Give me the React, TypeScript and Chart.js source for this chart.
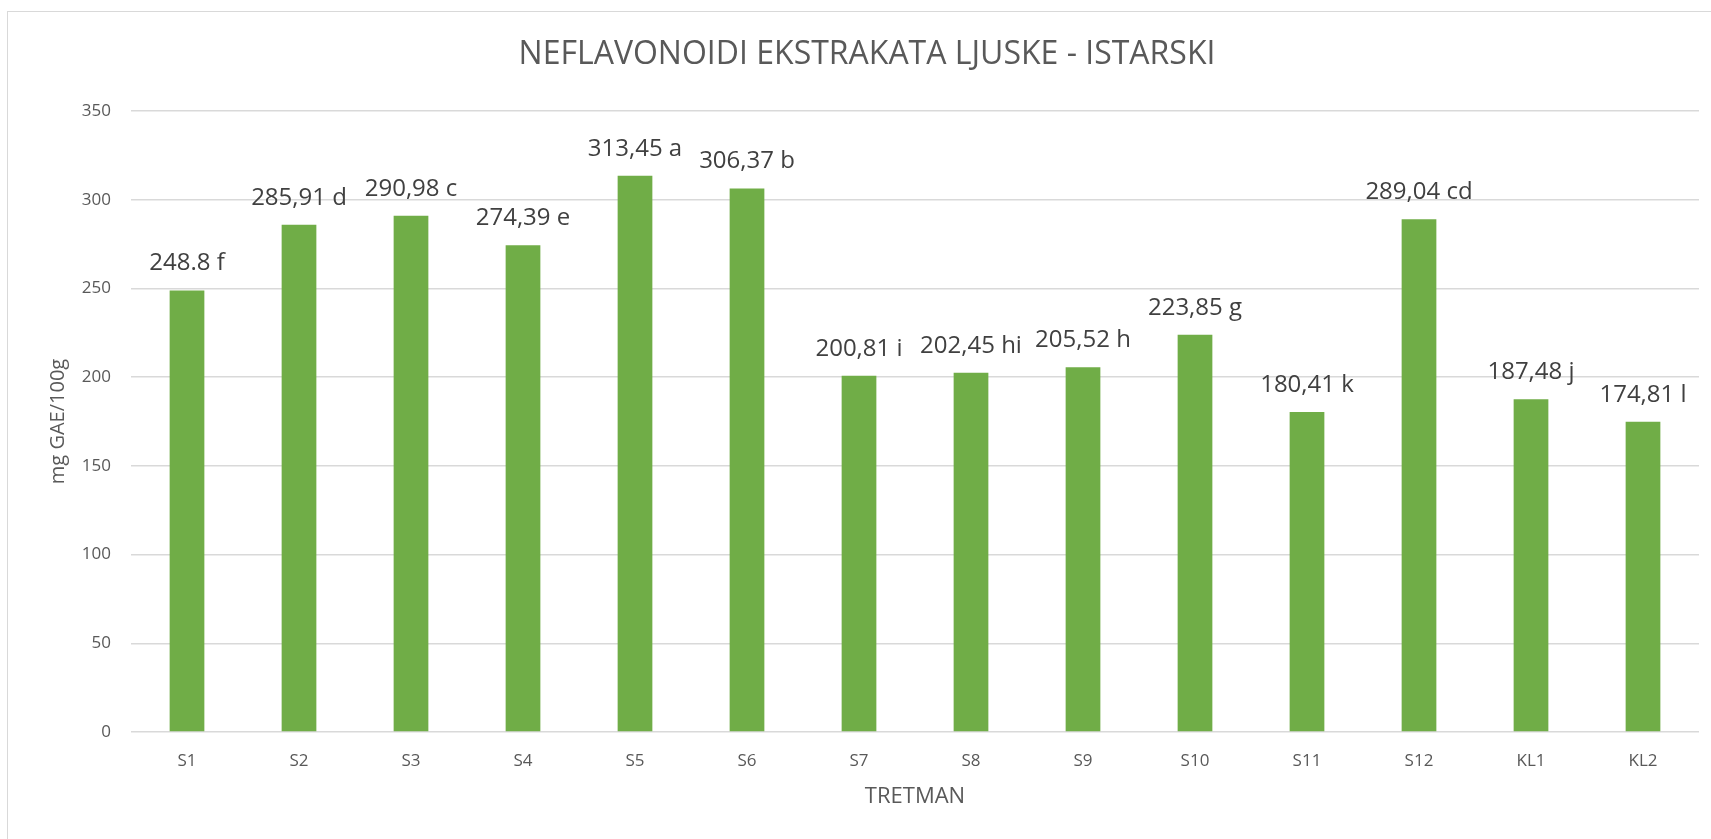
import React, { useEffect, useRef } from "react";
import { Chart, registerables } from "chart.js";

Chart.register(...registerables);

const categories = ["S1", "S2", "S3", "S4", "S5", "S6", "S7", "S8", "S9", "S10", "S11", "S12", "KL1", "KL2"];
const values = [248.8, 285.91, 290.98, 274.39, 313.45, 306.37, 200.81, 202.45, 205.52, 223.85, 180.41, 289.04, 187.48, 174.81];
const labelTexts = [
  "248.8 f", "285,91 d", "290,98 c", "274,39 e", "313,45 a", "306,37 b", "200,81 i",
  "202,45 hi", "205,52 h", "223,85 g", "180,41 k", "289,04 cd", "187,48 j", "174,81 l",
];
const yTicks = [0, 50, 100, 150, 200, 250, 300, 350];

const chartTitle = "NEFLAVONOIDI EKSTRAKATA LJUSKE - ISTARSKI";
const xTitle = "TRETMAN";
const yTitle = "mg GAE/100g";

const FONT = "'Open Sans', 'Noto Sans', sans-serif";
const CANVAS_W = 1740;
const CANVAS_H = 839;

const dataLabelPlugin = {
  id: "dataLabelPlugin",
  afterDatasetsDraw(chart: any) {
    const ctx = chart.ctx;
    const meta = chart.getDatasetMeta(0);
    ctx.save();
    ctx.font = `24px ${FONT}`;
    ctx.fillStyle = "#404040";
    ctx.textAlign = "center";
    ctx.textBaseline = "middle";
    meta.data.forEach((bar: any, i: number) => {
      ctx.fillText(labelTexts[i], bar.x, bar.y - 27);
    });
    ctx.restore();
  },
};

export default function App() {
  const canvasRef = useRef<HTMLCanvasElement | null>(null);

  useEffect(() => {
    if (!canvasRef.current) return;
    const chart = new Chart(canvasRef.current, {
      type: "bar",
      data: {
        labels: categories,
        datasets: [
          {
            data: values,
            backgroundColor: "#70ad47",
            borderWidth: 0,
            barPercentage: 0.31,
            categoryPercentage: 1,
          },
        ],
      },
      options: {
        responsive: false,
        animation: false,
        devicePixelRatio: 1,
        layout: { padding: { left: 35, right: 41, top: 0, bottom: 0 } },
        plugins: {
          legend: { display: false },
          tooltip: { enabled: false },
          title: {
            display: true,
            text: chartTitle,
            color: "#595959",
            font: { family: FONT, size: 32, weight: "normal" },
            padding: { top: 36, bottom: 36.6 },
          },
        },
        scales: {
          x: {
            grid: { display: false, drawTicks: false },
            border: { display: false },
            ticks: {
              color: "#595959",
              font: { family: FONT, size: 17 },
              padding: 19,
              maxRotation: 0,
              autoSkip: false,
            },
            title: {
              display: true,
              text: xTitle,
              color: "#595959",
              font: { family: FONT, size: 22 },
              padding: { top: 0, bottom: 29 },
            },
            afterFit(scale: any) {
              scale.height = 107;
            },
          },
          y: {
            min: 0,
            max: 350,
            afterBuildTicks(scale: any) {
              scale.ticks = yTicks.map((v) => ({ value: v }));
            },
            grid: { color: "#d9d9d9", lineWidth: 1.5, drawTicks: false },
            border: { display: false },
            ticks: {
              color: "#595959",
              font: { family: FONT, size: 17 },
              padding: 20,
            },
            title: {
              display: true,
              text: yTitle,
              color: "#595959",
              font: { family: FONT, size: 20 },
              padding: { top: 11, bottom: 0 },
            },
            afterFit(scale: any) {
              scale.width = 96;
            },
          },
        },
      },
      plugins: [dataLabelPlugin],
    });
    return () => chart.destroy();
  }, []);

  return (
    <div style={{ position: "fixed", left: 0, top: 0, width: 1711, height: 839, overflow: "hidden", background: "#ffffff" }}>
      <div
        style={{
          position: "absolute",
          left: 7,
          top: 11,
          width: 1800,
          height: 900,
          border: "1.5px solid #d9d9d9",
          boxSizing: "border-box",
        }}
      />
      <canvas
        ref={canvasRef}
        width={CANVAS_W}
        height={CANVAS_H}
        style={{ position: "absolute", left: 0, top: 0, width: CANVAS_W, height: CANVAS_H }}
      />
    </div>
  );
}
